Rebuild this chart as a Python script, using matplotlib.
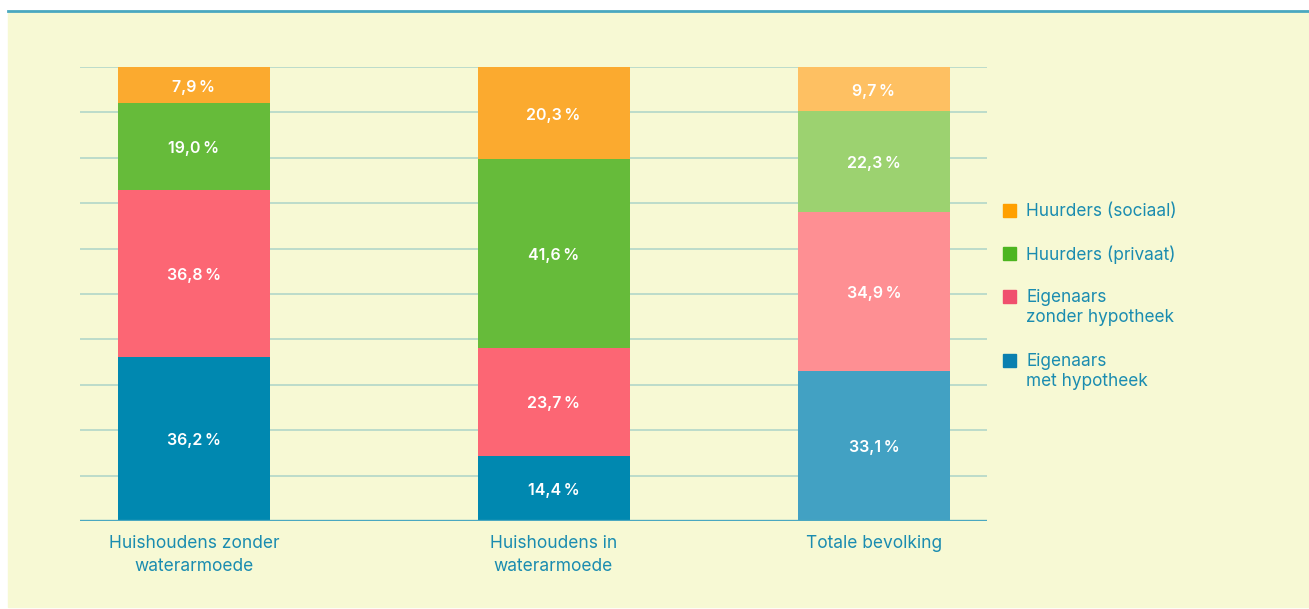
import matplotlib.pyplot as plt
from matplotlib.patches import Rectangle
from matplotlib.lines import Line2D

plt.rcParams["font.family"] = ["Inter", "DejaVu Sans"]

# Woonsituatie per groep (in %)
groepen = ["Huishoudens zonder\nwaterarmoede", "Huishoudens in\nwaterarmoede", "Totale bevolking"]
reeksen = ["Eigenaars\nmet hypotheek", "Eigenaars\nzonder hypotheek", "Huurders (privaat)", "Huurders (sociaal)"]
met_hypotheek = [36.2, 14.4, 33.1]
zonder_hypotheek = [36.8, 23.7, 34.9]
huur_privaat = [19.0, 41.6, 22.3]
huur_sociaal = [7.9, 20.3, 9.7]
waarden = [met_hypotheek, zonder_hypotheek, huur_privaat, huur_sociaal]

# kleuren: vol voor de twee groepen, lichter voor de totale bevolking
kleuren = ["#0088B0", "#FC6674", "#66BB3A", "#FBAA2F"]
kleuren_licht = ["#42A1C3", "#FE8F93", "#9CD270", "#FEC062"]
legende_kleuren = ["#0A80B0", "#F0506E", "#4CB520", "#FFA000"]
tekstkleur = "#1A8CB0"
achtergrond = "#F7F9D4"

W, H = 1309, 609
fig = plt.figure(figsize=(W / 100, H / 100), dpi=100, facecolor="white")

# gele achtergrond met blauwe lijn bovenaan
fig.patches.append(Rectangle((8 / W, 2 / H), 1 - 8 / W, (H - 13) / H,
                             transform=fig.transFigure, color=achtergrond, zorder=-2))
fig.lines.append(Line2D([8 / W, 1], [(H - 11) / H] * 2, transform=fig.transFigure,
                        color="#4AA8C0", lw=2, zorder=-1))

ax = fig.add_axes([80 / W, (H - 521) / H, (987 - 80) / W, (521 - 67) / H])
ax.set_zorder(2)
ax.set_facecolor("none")
ax.set_xlim(80, 987)
ax.set_ylim(0, 100)

posities = [194, 553.5, 874]
breedte = 152

onder = [0, 0, 0]
for i, reeks in enumerate(waarden):
    kl = [kleuren[i], kleuren[i], kleuren_licht[i]]
    ax.bar(posities, reeks, width=breedte, bottom=onder, color=kl, zorder=3)
    for x, b, v in zip(posities, onder, reeks):
        ax.annotate(f"{v:.1f}".replace(".", ",") + "\u202f%", (x, b + v / 2),
                    xytext=(0, -2), textcoords="offset pixels", ha="center", va="center",
                    color="white", fontsize=11.5, fontweight="semibold", zorder=4)
    onder = [b + v for b, v in zip(onder, reeks)]

# rasterlijnen
for y in range(10, 101, 10):
    ax.axhline(y, color="#B7D9C9", lw=1.3, zorder=1)
ax.axhline(0, color="#4AA8C0", lw=2.4, zorder=5)

for s in ax.spines.values():
    s.set_visible(False)
ax.set_yticks([])
ax.set_xticks(posities)
ax.set_xticklabels(groepen, fontsize=12.5, color=tekstkleur, linespacing=1.45)
ax.tick_params(axis="x", length=0, pad=10)

# legende, van boven naar onder
legende_y = [210, 253, 296, 360]
for y, naam, kleur in zip(legende_y, reeksen[::-1], legende_kleuren[::-1]):
    fig.patches.append(Rectangle((1003 / W, (H - y - 7) / H), 13 / W, 13 / H,
                                 transform=fig.transFigure, color=kleur, zorder=2))
    fig.text(1026 / W, (H - y + 7) / H, naam, ha="left", va="top", fontsize=12.4,
             color=tekstkleur, linespacing=1.25, transform=fig.transFigure)

fig.savefig("out.png", dpi=100, facecolor="white")
